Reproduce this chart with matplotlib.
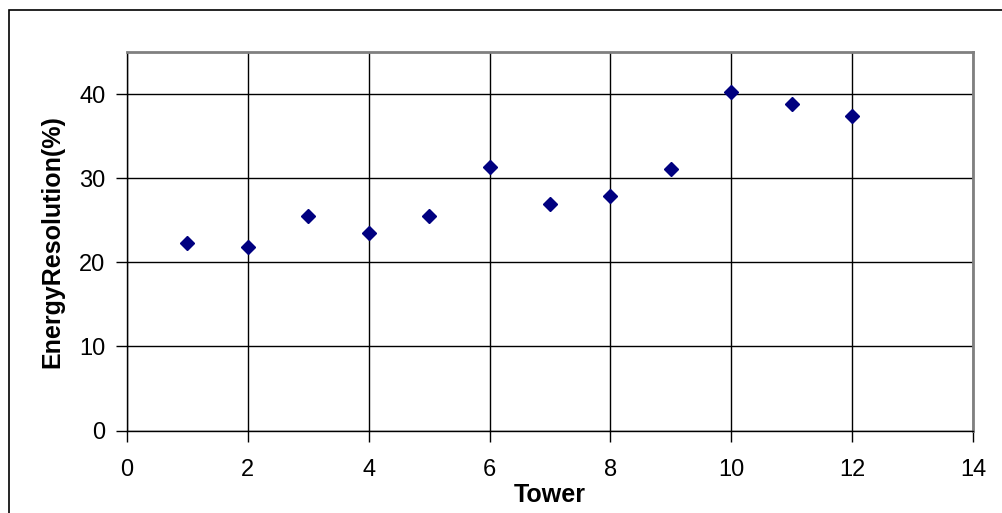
import matplotlib
matplotlib.use("Agg")
import matplotlib.pyplot as plt
from matplotlib.patches import Rectangle

plt.rcParams["font.family"] = ["Liberation Sans", "DejaVu Sans"]

tower = [1, 2, 3, 4, 5, 6, 7, 8, 9, 10, 11, 12]
resolution = [22.3, 21.8, 25.5, 23.5, 25.5, 31.3, 26.9, 27.9, 31.1, 40.3, 38.8, 37.4]

W, H = 1002, 513
fig = plt.figure(figsize=(W / 100, H / 100), dpi=100)

# Excel-style chart border (clipped at right and bottom, as in the reference)
fig.patches.append(Rectangle((9 / W, -0.05), 1.2, 1 - 10 / H + 0.05,
                             transform=fig.transFigure, fill=False,
                             edgecolor="black", lw=1.2))

ax = fig.add_axes([127 / W, 1 - 430.5 / H, (973 - 127) / W, (430.5 - 52) / H])
ax.plot(tower, resolution, ls="none", marker="D", ms=7.4,
        color="#000080", mec="#000080", zorder=3, clip_on=False)

ax.set_xlim(0, 14)
ax.set_ylim(0, 45)
ax.set_xticks(range(0, 15, 2))
ax.set_yticks(range(0, 41, 10))
ax.grid(True, color="black", lw=1)
ax.set_axisbelow(True)

for side in ("top", "right"):
    ax.spines[side].set_color("#808080")
    ax.spines[side].set_linewidth(2)
for side in ("left", "bottom"):
    ax.spines[side].set_color("black")
    ax.spines[side].set_linewidth(1)

ax.tick_params(direction="out", length=8, width=1, labelsize=17)
ax.tick_params(axis="x", pad=12.5)
ax.tick_params(axis="y", pad=7.5)
ax.set_xlabel("Tower", fontsize=18, fontweight="bold", va="top")
ax.set_ylabel("EnergyResolution(%)", fontsize=18, fontweight="bold")
ax.xaxis.set_label_coords(0.5, -(483 - 430.5) / 378.5)
ax.yaxis.set_label_coords((64 - 127) / 846, 0.5)

fig.savefig("out.png", dpi=100)
